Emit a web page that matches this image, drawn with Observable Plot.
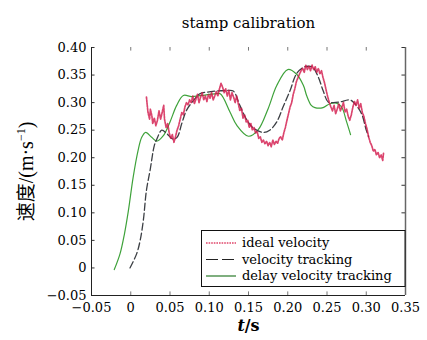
<!DOCTYPE html>
<html><head><meta charset="utf-8">
<script src="https://cdn.jsdelivr.net/npm/d3@7"></script>
<script src="https://cdn.jsdelivr.net/npm/@observablehq/plot@0.6"></script>
<style>body{margin:0;background:#fff}</style>
</head><body><div id="chart"></div>
<script>
const titleText = "stamp calibration";
const yLabelText = "速度/(m·s⁻¹)";
const seriesNames = ["ideal velocity", "velocity tracking", "delay velocity tracking"];
const xTicks = [-0.05, 0, 0.05, 0.10, 0.15, 0.20, 0.25, 0.30, 0.35];
const yTicks = [-0.05, 0, 0.05, 0.10, 0.15, 0.20, 0.25, 0.30, 0.35, 0.40];

// ideal velocity (noisy)
const idealT = [0.020,0.021,0.022,0.024,0.025,0.027,0.028,0.030,0.032,0.034,0.036,0.038,0.040,0.042,0.043,0.045,0.047,0.049,0.051,0.053,0.055,0.057,0.059,0.061,0.063,0.065,0.067,0.069,0.071,0.073,0.075,0.077,0.079,0.081,0.083,0.085,0.087,0.089,0.091,0.093,0.095,0.097,0.099,0.101,0.103,0.105,0.107,0.109,0.111,0.113,0.115,0.117,0.119,0.121,0.123,0.125,0.127,0.129,0.131,0.133,0.135,0.137,0.139,0.141,0.143,0.145,0.147,0.149,0.151,0.153,0.155,0.157,0.159,0.161,0.163,0.165,0.167,0.169,0.171,0.173,0.175,0.177,0.179,0.181,0.183,0.185,0.187,0.189,0.191,0.193,0.195,0.197,0.199,0.201,0.203,0.205,0.207,0.209,0.211,0.213,0.215,0.217,0.219,0.221,0.223,0.225,0.227,0.229,0.231,0.233,0.235,0.237,0.239,0.241,0.243,0.245,0.247,0.249,0.251,0.253,0.255,0.257,0.259,0.261,0.263,0.265,0.267,0.269,0.271,0.273,0.275,0.277,0.279,0.281,0.283,0.285,0.287,0.289,0.291,0.293,0.295,0.297,0.299,0.301,0.303,0.305,0.307,0.309,0.311,0.313,0.315,0.317,0.319,0.321,0.322];
const idealV = [0.310,0.295,0.282,0.270,0.288,0.275,0.262,0.272,0.258,0.268,0.285,0.270,0.282,0.295,0.270,0.255,0.262,0.245,0.235,0.242,0.228,0.238,0.250,0.258,0.270,0.282,0.278,0.292,0.300,0.296,0.305,0.300,0.312,0.298,0.306,0.315,0.300,0.310,0.318,0.305,0.312,0.302,0.315,0.308,0.318,0.305,0.312,0.320,0.312,0.325,0.335,0.328,0.318,0.325,0.312,0.322,0.305,0.318,0.310,0.300,0.312,0.298,0.285,0.290,0.272,0.278,0.265,0.268,0.255,0.262,0.250,0.255,0.245,0.248,0.235,0.238,0.228,0.232,0.225,0.230,0.222,0.228,0.220,0.232,0.224,0.230,0.226,0.235,0.238,0.232,0.245,0.255,0.268,0.280,0.292,0.300,0.315,0.325,0.338,0.345,0.352,0.358,0.362,0.355,0.368,0.360,0.366,0.358,0.368,0.360,0.365,0.355,0.362,0.352,0.358,0.345,0.335,0.322,0.310,0.300,0.292,0.285,0.295,0.280,0.288,0.298,0.285,0.292,0.300,0.283,0.288,0.275,0.268,0.278,0.292,0.302,0.295,0.305,0.290,0.298,0.282,0.275,0.262,0.252,0.238,0.228,0.222,0.212,0.215,0.205,0.210,0.200,0.205,0.195,0.208];

// velocity tracking
const trackT = [-0.001,0.0076,0.012,0.016,0.020,0.0246,0.030,0.033,0.0395,0.0458,0.0535,0.059,0.065,0.071,0.080,0.088,0.097,0.122,0.1306,0.139,0.148,0.156,0.169,0.177,0.186,0.194,0.203,0.211,0.220,0.226,0.232,0.239,0.245,0.2515,0.258,0.266,0.279,0.2855,0.294,0.300,0.303];
const trackV = [0.0,0.026,0.050,0.086,0.141,0.177,0.222,0.233,0.250,0.244,0.234,0.237,0.262,0.286,0.304,0.316,0.319,0.322,0.321,0.295,0.268,0.254,0.246,0.250,0.265,0.292,0.322,0.352,0.364,0.366,0.364,0.346,0.322,0.301,0.300,0.301,0.305,0.298,0.280,0.250,0.238];

// delay velocity tracking
const delayT = [-0.021,-0.0136,-0.008,-0.003,0.003,0.0093,0.014,0.019,0.0267,0.033,0.0415,0.050,0.0585,0.067,0.0776,0.090,0.107,0.114,0.1264,0.135,0.150,0.162,0.175,0.186,0.200,0.211,0.220,0.224,0.230,0.2346,0.245,0.2537,0.262,0.2686,0.275,0.280];
const delayV = [-0.003,0.026,0.062,0.104,0.164,0.213,0.237,0.246,0.237,0.230,0.240,0.265,0.295,0.313,0.311,0.313,0.316,0.316,0.283,0.259,0.239,0.250,0.289,0.331,0.360,0.352,0.331,0.313,0.295,0.291,0.291,0.298,0.299,0.292,0.265,0.242];

const ideal = idealT.map((t,i)=>({t, v: idealV[i]}));
const track = trackT.map((t,i)=>({t, v: trackV[i]}));
const delay = delayT.map((t,i)=>({t, v: delayV[i]}));

const fmt = d => d === 0 ? "0" : d.toFixed(2).replace("-", "−");
const serif = "'DejaVu Serif', 'Noto Sans CJK SC', serif";

const chart = Plot.plot({
  width: 427, height: 340,
  marginLeft: 91, marginRight: 22, marginTop: 47, marginBottom: 45,
  x: {domain: [-0.05, 0.35]},
  y: {domain: [-0.05, 0.40]},
  style: {fontFamily: serif, fontSize: "13px", background: "white", color: "black"},
  marks: [
    Plot.axisX(xTicks, {tickSize: 0, tickPadding: 7, tickFormat: fmt, label: null, fontSize: 13}),
    Plot.axisY(yTicks, {tickSize: 0, tickPadding: 5, tickFormat: fmt, label: null, fontSize: 13}),
    Plot.ruleX(xTicks, {x: d => d, y1: -0.05, y2: -0.0435, stroke: "#777"}),
    Plot.ruleX(xTicks, {x: d => d, y1: 0.3935, y2: 0.40, stroke: "#777"}),
    Plot.ruleY(yTicks, {y: d => d, x1: -0.05, x2: -0.0455, stroke: "#333"}),
    Plot.ruleY(yTicks, {y: d => d, x1: 0.3455, x2: 0.35, stroke: "#333"}),
    Plot.ruleX([-0.05], {stroke: "#222"}),
    Plot.ruleX([0.35], {stroke: "#666", strokeWidth: 1.5}),
    Plot.ruleY([-0.05], {stroke: "#222"}),
    Plot.line(delay, {x: "t", y: "v", stroke: "#3ea23a", strokeWidth: 1.2, curve: "catmull-rom"}),
    Plot.line(track, {x: "t", y: "v", stroke: "#3c3f44", strokeWidth: 1.3, strokeDasharray: "7,3", curve: "catmull-rom"}),
    Plot.line(ideal, {x: "t", y: "v", stroke: "#d2174a", strokeWidth: 1.7, strokeDasharray: "1.8,1", strokeOpacity: 0.8}),
    Plot.text([titleText], {frameAnchor: "top", dy: -30, fontSize: 15, fontFamily: serif}),
    Plot.text([yLabelText], {frameAnchor: "left", textAnchor: "middle", dx: -64, rotate: -90, fontSize: 18, fontFamily: serif}),
    Plot.text(["t/s"], {frameAnchor: "bottom", dy: 35, fontSize: 16, fontWeight: "bold", fontFamily: serif})
  ]
});
document.getElementById("chart").appendChild(chart);

const svg = d3.select(chart);
// x label: italic t
svg.selectAll("text").filter(function(){ return this.textContent === "t/s"; }).each(function(){
  const el = d3.select(this);
  el.text(null);
  el.append("tspan").attr("font-style", "italic").text("t");
  el.append("tspan").text("/s");
});
// y label: CJK + serif latin with superscript
svg.selectAll("text").filter(function(){ return this.textContent === yLabelText; }).each(function(){
  const el = d3.select(this);
  el.text(null);
  el.append("tspan").attr("font-family", "'Noto Sans CJK SC'").attr("font-size", 19).text("速度");
  el.append("tspan").attr("font-family", "'Liberation Serif'").attr("font-size", 20).text("/(m·s");
  el.append("tspan").attr("font-family", "'Liberation Serif'").attr("font-size", 12).attr("dy", "-0.7em").text("−1");
  el.append("tspan").attr("font-family", "'Liberation Serif'").attr("font-size", 20).attr("dy", "0.42em").text(")");
});

// legend
const lg = svg.append("g").attr("font-family", serif).attr("font-size", 13).attr("text-anchor", "start");
lg.append("rect").attr("x", 201.5).attr("y", 230.5).attr("width", 203.5).attr("height", 56).attr("fill", "white").attr("stroke", "#111");
const legendStyles = [
  {stroke: "#e0456a", dash: "1.6,1", w: 1.4},
  {stroke: "#222", dash: "12,4", w: 1.2},
  {stroke: "#2a7a2a", dash: null, w: 1.2}
];
seriesNames.forEach((name, i) => {
  const y = 243 + i * 16.5;
  const ln = lg.append("line").attr("x1", 206).attr("x2", 236).attr("y1", y).attr("y2", y)
    .attr("stroke", legendStyles[i].stroke).attr("stroke-width", legendStyles[i].w);
  if (legendStyles[i].dash) ln.attr("stroke-dasharray", legendStyles[i].dash);
  lg.append("text").attr("x", 242).attr("y", y).attr("dy", "0.32em").text(name);
});
</script>
</body></html>
